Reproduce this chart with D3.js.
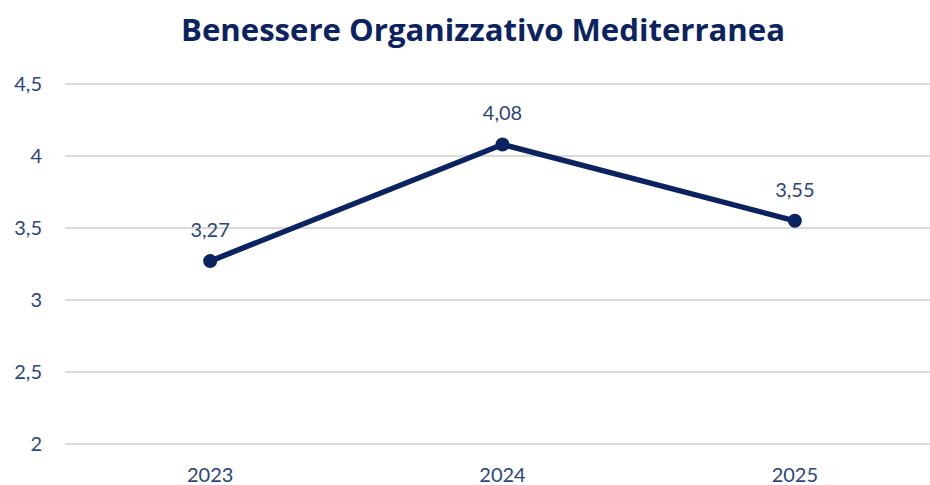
<!DOCTYPE html>
<html>
<head>
<meta charset="utf-8">
<script src="https://cdn.jsdelivr.net/npm/d3@7"></script>
<style>
  body { margin: 0; background: #fff; }
  svg { display: block; font-family: Lato, "Open Sans", sans-serif; }
</style>
</head>
<body>
<svg width="930" height="485"></svg>
<script>
var years = ["2023", "2024", "2025"];
var values = [3.27, 4.08, 3.55];
var yTicks = [2, 2.5, 3, 3.5, 4, 4.5];

var svg = d3.select("svg"),
  width = +svg.attr("width"),
  height = +svg.attr("height");

var navy = "#0b2361";
var labelColor = "#2b4580";
var fmt = function(v){ return String(v).replace(".", ","); };

var x = d3.scalePoint().domain(years).range([64, 941]).padding(0.5);
var y = d3.scaleLinear().domain([2, 4.5]).range([444, 84]);

svg.append("text")
  .attr("x", 483).attr("y", 41)
  .attr("text-anchor", "middle")
  .attr("textLength", 604).attr("lengthAdjust", "spacingAndGlyphs")
  .style("font-family", "'Open Sans', sans-serif")
  .style("font-size", "30px").style("font-weight", "bold")
  .style("fill", navy)
  .text("Benessere Organizzativo Mediterranea");

// gridlines
svg.append("g")
  .selectAll("line")
  .data(yTicks)
  .enter().append("line")
  .attr("x1", 65).attr("x2", width)
  .attr("y1", function(d){ return y(d); })
  .attr("y2", function(d){ return y(d); })
  .attr("stroke", "#d9d9d9").attr("stroke-width", 2);

// y labels
svg.append("g")
  .selectAll("text")
  .data(yTicks)
  .enter().append("text")
  .attr("x", 42)
  .attr("y", function(d){ return y(d) + 7; })
  .attr("text-anchor", "end")
  .style("font-size", "20px").style("fill", labelColor)
  .text(function(d){ return fmt(d); });

// x labels
svg.append("g")
  .selectAll("text")
  .data(years)
  .enter().append("text")
  .attr("x", function(d){ return x(d); })
  .attr("y", 482)
  .attr("text-anchor", "middle")
  .style("font-size", "20px").style("fill", labelColor)
  .text(function(d){ return d; });

var pts = years.map(function(d, i){ return {year: d, value: values[i]}; });

var line = d3.line()
  .x(function(d){ return x(d.year); })
  .y(function(d){ return y(d.value); });

svg.append("path")
  .datum(pts)
  .attr("d", line)
  .attr("fill", "none")
  .attr("stroke", navy)
  .attr("stroke-width", 5.5)
  .attr("stroke-linejoin", "round");

svg.append("g")
  .selectAll("circle")
  .data(pts)
  .enter().append("circle")
  .attr("cx", function(d){ return x(d.year); })
  .attr("cy", function(d){ return y(d.value); })
  .attr("r", 7)
  .attr("fill", navy);

svg.append("g")
  .selectAll("text")
  .data(pts)
  .enter().append("text")
  .attr("x", function(d){ return x(d.year); })
  .attr("y", function(d){ return y(d.value) - 24; })
  .attr("text-anchor", "middle")
  .style("font-size", "20px").style("fill", labelColor)
  .text(function(d){ return fmt(d.value); });
</script>
</body>
</html>
